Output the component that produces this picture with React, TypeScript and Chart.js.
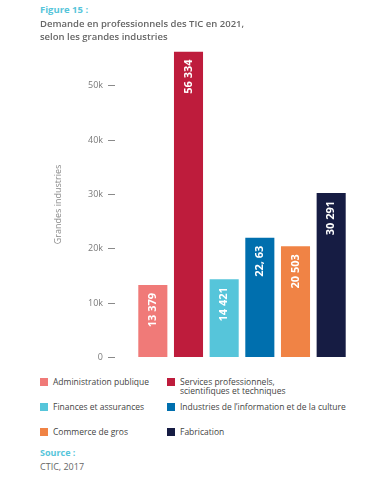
import React, { useEffect, useRef } from "react";
import { Chart, registerables } from "chart.js";

Chart.register(...registerables);

const categories = [
  "Administration publique",
  "Services professionnels, scientifiques et techniques",
  "Finances et assurances",
  "Industries de l'information et de la culture",
  "Commerce de gros",
  "Fabrication",
];
const legendLines = [
  ["Administration publique"],
  ["Services professionnels,", "scientifiques et techniques"],
  ["Finances et assurances"],
  ["Industries de l’information et de la culture"],
  ["Commerce de gros"],
  ["Fabrication"],
];
const values = [13379, 56334, 14421, 22063, 20503, 30291];
const valueLabels = ["13 379", "56 334", "14 421", "22, 63", "20 503", "30 291"];
const colors = ["#F07A78", "#BE1C3C", "#56C5DA", "#006FAE", "#F08345", "#161C43"];
const yTickValues = [0, 10000, 20000, 30000, 40000, 50000];
const yTickLabels = ["0", "10k", "20k", "30k", "40k", "50k"];

const FONT = "'Open Sans', 'Noto Sans', sans-serif";

const barLabelPlugin = {
  id: "barLabels",
  afterDatasetsDraw(chart: any) {
    const ctx = chart.ctx;
    const meta = chart.getDatasetMeta(0);
    ctx.save();
    ctx.fillStyle = "#ffffff";
    ctx.font = `bold 11px ${FONT}`;
    ctx.textAlign = "right";
    ctx.textBaseline = "middle";
    meta.data.forEach((bar: any, i: number) => {
      ctx.save();
      ctx.translate(bar.x, bar.y + 8);
      ctx.rotate(-Math.PI / 2);
      ctx.fillText(valueLabels[i], 0, 0);
      ctx.restore();
    });
    ctx.restore();
  },
};

function BarChart() {
  const ref = useRef<HTMLCanvasElement | null>(null);
  useEffect(() => {
    if (!ref.current) return;
    const chart = new Chart(ref.current, {
      type: "bar",
      data: {
        labels: categories,
        datasets: [
          {
            data: values,
            backgroundColor: colors,
            borderWidth: 0,
            categoryPercentage: 1,
            barPercentage: 0.815,
          },
        ],
      },
      options: {
        animation: false,
        responsive: false,
        devicePixelRatio: 1,
        layout: { padding: { top: 4, bottom: 8, left: 0, right: 11 } },
        plugins: {
          legend: { display: false },
          tooltip: { enabled: false },
        },
        scales: {
          x: { display: false, offset: true },
          y: {
            min: 0,
            max: Math.max(...values),
            border: { display: false },
            afterBuildTicks: (scale: any) => {
              scale.ticks = yTickValues.map((v) => ({ value: v }));
            },
            grid: {
              drawOnChartArea: false,
              drawTicks: true,
              tickLength: 27,
              tickColor: "#8a8a8a",
              tickWidth: 1,
              tickBorderDash: [7, 40],
            },
            ticks: {
              padding: 5,
              color: "#7a7a7a",
              font: { family: FONT, size: 9 },
              callback: (v: any) => {
                const i = yTickValues.indexOf(Number(v));
                return i >= 0 ? yTickLabels[i] : "";
              },
            },
            title: {
              display: true,
              text: "Grandes industries",
              color: "#8a8a8a",
              font: { family: FONT, size: 9 },
              padding: { top: 13, bottom: 0 },
            },
            afterFit: (scale: any) => {
              scale.width = 95;
            },
          },
        },
      },
      plugins: [barLabelPlugin],
    });
    return () => chart.destroy();
  }, []);
  return (
    <canvas
      ref={ref}
      width={320}
      height={327}
      style={{ position: "absolute", left: 40, top: 41, width: 320, height: 327 }}
    />
  );
}

export default function App() {
  const cyan = "#56C5DA";
  const legendRows = [
    [0, 1],
    [2, 3],
    [4, 5],
  ];
  const rowTops = [377, 402, 427];
  const colLeft = [40, 167];
  return (
    <div
      style={{
        position: "absolute",
        left: 0,
        top: 0,
        width: 373,
        height: 477,
        background: "#fff",
        fontFamily: FONT,
        overflow: "hidden",
      }}
    >
      <BarChart />
      <div style={{ position: "absolute", left: 40, top: 3, fontSize: 9.5, fontWeight: 700, color: cyan }}>
        Figure 15 :
      </div>
      <div
        style={{
          position: "absolute",
          left: 40,
          top: 17,
          fontSize: 9.5,
          fontWeight: 600,
          color: "#666",
          lineHeight: "13px",
        }}
      >
        Demande en professionnels des TIC en 2021,
        <br />
        selon les grandes industries
      </div>
      {legendRows.map((row, r) =>
        row.map((idx, c) => (
          <div
            key={idx}
            style={{ position: "absolute", left: colLeft[c], top: rowTops[r], display: "flex" }}
          >
            <div style={{ width: 8, height: 8, background: colors[idx], marginTop: 1 }} />
            <div style={{ marginLeft: 5, fontSize: 8.5, color: "#444", lineHeight: "9px" }}>
              {legendLines[idx].map((l, k) => (
                <div key={k}>{l}</div>
              ))}
            </div>
          </div>
        ))
      )}
      <div style={{ position: "absolute", left: 40, top: 446, fontSize: 9, fontWeight: 700, color: cyan }}>
        Source :
      </div>
      <div style={{ position: "absolute", left: 40, top: 460, fontSize: 9, color: "#666" }}>CTIC, 2017</div>
    </div>
  );
}
